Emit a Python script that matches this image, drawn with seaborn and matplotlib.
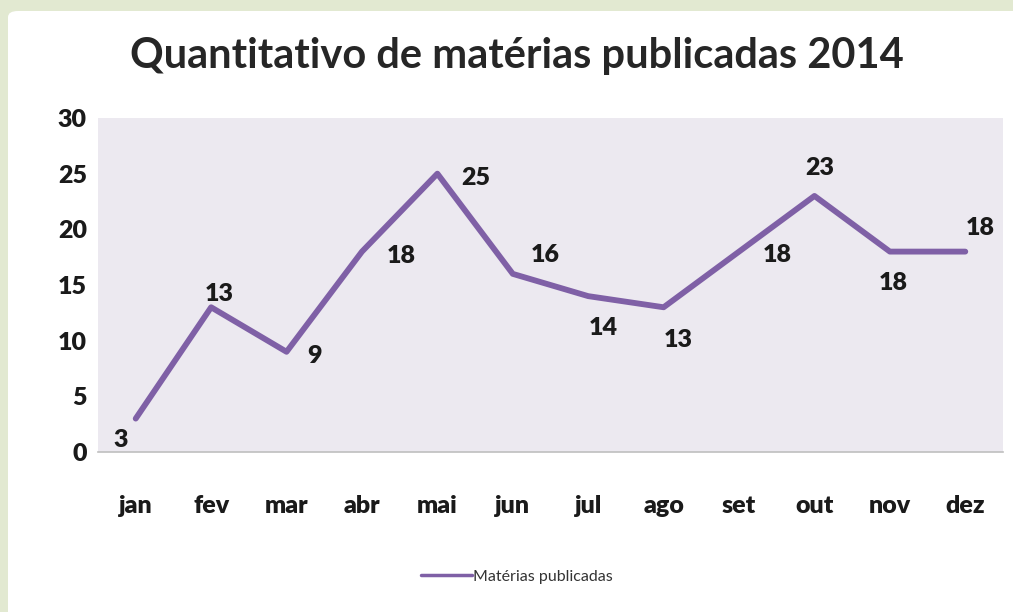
import matplotlib
matplotlib.use("Agg")
import matplotlib.pyplot as plt
import seaborn as sns
import pandas as pd
from matplotlib.patches import FancyBboxPatch

meses = ["jan", "fev", "mar", "abr", "mai", "jun", "jul", "ago", "set", "out", "nov", "dez"]
materias = [3, 13, 9, 18, 25, 16, 14, 13, 18, 23, 18, 18]
serie = "Matérias publicadas"
titulo = "Quantitativo de matérias publicadas 2014"
yticks = [0, 5, 10, 15, 20, 25, 30]

# label offsets in pixels (style only)
offsets = [(-15, -21), (8, 13), (28, -4), (39, -4), (38, -4), (32, 19),
           (15, -32), (15, -33), (38, -3), (5, 28), (3, -31), (15, 24)]

sns.set_theme(style="white")
plt.rcParams['font.family'] = ['Lato', 'DejaVu Sans']

W, H = 1013, 612
fig = plt.figure(figsize=(W / 100, H / 100), dpi=100, facecolor="#E2E9D1")

# white panel
panel = FancyBboxPatch((8 / W, -0.2), 1.2, (H - 11) / H + 0.2,
                       boxstyle="round,pad=0,rounding_size=0.01",
                       transform=fig.transFigure, facecolor="white",
                       edgecolor="none", zorder=-10)
fig.add_artist(panel)

ax = fig.add_axes([98 / W, 1 - 452 / H, (1003 - 98) / W, (452 - 118) / H])
ax.set_zorder(1)
ax.set_facecolor("#ECE9F0")

df = pd.DataFrame({"mes": meses, "valor": materias, "serie": serie})
sns.lineplot(data=df, x="mes", y="valor", hue="serie", palette=["#7F60A6"],
             linewidth=4.2, ax=ax, sort=False)

for i, (v, off) in enumerate(zip(materias, offsets)):
    ax.annotate(str(v), (i, v), xytext=off, textcoords="offset pixels",
                ha="center", va="center", fontsize=18, fontweight="heavy",
                color="#1a1a1a")

ax.set_xlim(-0.5, len(meses) - 0.5)
ax.set_ylim(0, 30)
ax.set_yticks(yticks)
ax.set_yticklabels([str(t) for t in yticks], fontsize=18, fontweight="heavy", color="#1a1a1a")
ax.set_xticks(range(len(meses)))
ax.set_xticklabels(meses, fontsize=18, fontweight="heavy", color="#1a1a1a")
ax.tick_params(axis="x", pad=31, length=0)
ax.tick_params(axis="y", pad=8, length=0)
ax.set_xlabel("")
ax.set_ylabel("")
for s in ["top", "right", "left"]:
    ax.spines[s].set_visible(False)
ax.spines["bottom"].set_color("#BFBFBF")
ax.spines["bottom"].set_linewidth(1.2)

fig.text(517 / W, 1 - 56 / H, titulo, ha="center", va="center",
         fontsize=30, fontweight="bold", color="#262626")

leg = ax.legend(loc="center", bbox_to_anchor=(517 / W, 1 - 577 / H),
                bbox_transform=fig.transFigure, frameon=False,
                fontsize=11.5, handlelength=3.2, handletextpad=0.1)
for line in leg.get_lines():
    line.set_linewidth(2.5)
for t in leg.get_texts():
    t.set_color("#333333")

fig.savefig("out.png", dpi=100, facecolor=fig.get_facecolor())
